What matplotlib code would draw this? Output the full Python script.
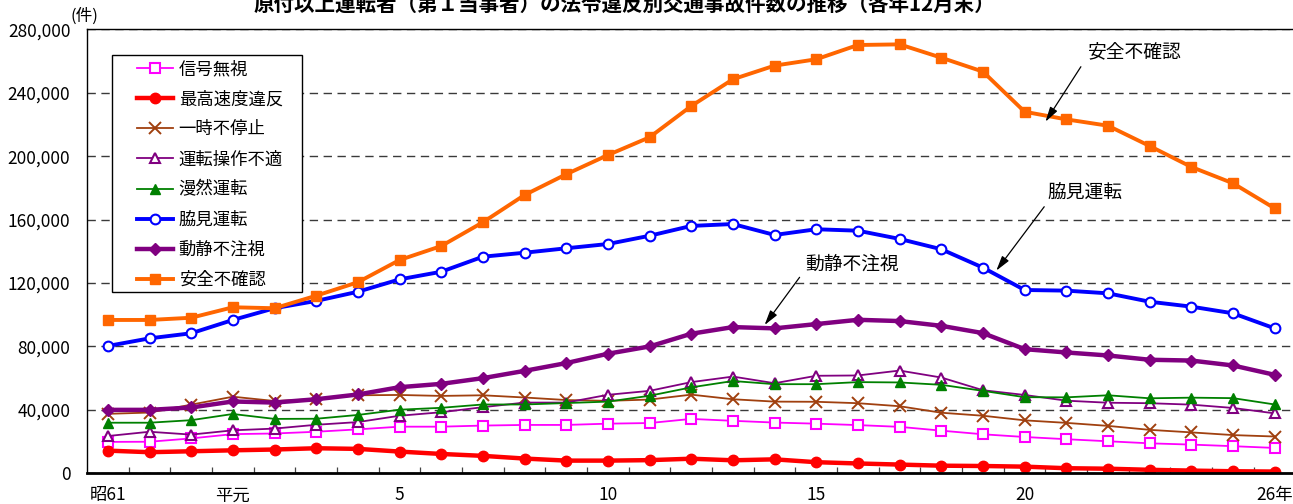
import matplotlib
matplotlib.use("Agg")
import matplotlib.pyplot as plt
from matplotlib.patches import Rectangle
from matplotlib.ticker import FixedLocator, FuncFormatter

plt.rcParams['font.family'] = ['Noto Sans CJK JP', 'DejaVu Sans']

# 昭和61年〜平成26年 (各年12月末)
years = ['昭61', '62', '63', '平元', '2', '3', '4', '5', '6', '7', '8', '9',
         '10', '11', '12', '13', '14', '15', '16', '17', '18', '19', '20',
         '21', '22', '23', '24', '25', '26年']
shown_labels = {'昭61': '昭61', '平元': '平元', '5': '5', '10': '10',
                '15': '15', '20': '20', '26年': '26年'}

signal_ignored = [19800, 19900, 22000, 24700, 25100, 26200, 27700, 29400, 29400,
                  30100, 30500, 30500, 31300, 31700, 34300, 33100, 32000, 31300,
                  30400, 29300, 26900, 24600, 22900, 21500, 20200, 18900, 18100,
                  17100, 16000]
speeding = [14300, 13300, 13900, 14500, 15000, 15800, 15400, 13700, 12200,
            11000, 9300, 8000, 8000, 8300, 9200, 8200, 8800, 7000, 6200, 5500,
            4800, 4600, 4200, 3200, 2900, 2200, 1700, 1300, 1100]
no_stop = [37500, 38300, 43300, 48300, 45600, 46800, 49200, 49400, 48800,
           49200, 47800, 46200, 45700, 46500, 49600, 46700, 45200, 45100,
           44200, 42300, 38200, 36300, 33400, 31800, 29900, 27400, 25800,
           24100, 23200]
improper_operation = [23500, 26200, 24400, 27100, 28200, 30600, 32300, 36300,
                      38500, 41700, 44600, 44600, 49500, 52000, 57500, 61000,
                      56800, 61500, 61700, 64800, 60400, 52400, 49400, 45800,
                      44500, 44200, 43300, 41200, 37800]
absent_minded = [31900, 31900, 33500, 37400, 34300, 34400, 36800, 40100, 41300,
                 43400, 43400, 44300, 45200, 48900, 54200, 58200, 56200, 56200,
                 57500, 57300, 55800, 52000, 48000, 47900, 49200, 47300, 47700,
                 47400, 43400]
looking_aside = [80300, 85100, 88300, 96700, 104100, 108700, 114500, 122300,
                 127100, 136600, 139100, 141900, 144600, 149800, 156000, 157200,
                 150300, 153900, 153000, 147800, 141300, 129700, 115600, 115200,
                 113500, 108200, 105100, 100900, 91400]
careless_of_others = [40000, 40000, 41500, 45300, 44600, 46700, 49700, 54300,
                      56400, 60000, 64600, 69500, 75400, 80000, 88000, 92200,
                      91400, 94100, 96800, 96000, 93000, 88400, 78300, 76200,
                      74300, 71600, 71100, 68000, 62100]
safety_unconfirmed = [96700, 96700, 98100, 104700, 104100, 112000, 120500,
                      134500, 143300, 158300, 175500, 188600, 200700, 211900,
                      231600, 248500, 257100, 261100, 270100, 270500, 262100,
                      253300, 228000, 223200, 219200, 206400, 193200, 182900,
                      167100]

series = [
    ('信号無視', signal_ignored, dict(color='#FF00FF', lw=1.3, marker='s', ms=6.5,
                                  mfc='white', mec='#FF00FF', mew=1.5)),
    ('最高速度違反', speeding, dict(color='#FF0000', lw=3.2, marker='o', ms=7.5,
                                 mfc='#FF0000', mec='#FF0000')),
    ('一時不停止', no_stop, dict(color='#A0400F', lw=1.3, marker='x', ms=8.5,
                             mew=1.4)),
    ('運転操作不適', improper_operation, dict(color='#800080', lw=1.3, marker='^',
                                       ms=7, mfc='white', mec='#800080', mew=1.5)),
    ('漫然運転', absent_minded, dict(color='#008000', lw=1.3, marker='^', ms=7.5,
                                 mfc='#008000', mec='#008000')),
    ('脇見運転', looking_aside, dict(color='#0000FF', lw=2.8, marker='o', ms=7,
                                 mfc='white', mec='#0000FF', mew=1.5)),
    ('動静不注視', careless_of_others, dict(color='#800080', lw=3.2, marker='D',
                                      ms=6.5, mfc='#800080', mec='#800080')),
    ('安全不確認', safety_unconfirmed, dict(color='#FF6600', lw=2.8, marker='s',
                                     ms=7.5, mfc='#FF6600', mec='#FF6600')),
]

W, H = 1293, 504
fig = plt.figure(figsize=(W / 100, H / 100), dpi=100)
left_px, right_px, top_px, bottom_px = 87, 1295.5, 29.3, 473.3
ax = fig.add_axes([left_px / W, 1 - bottom_px / H,
                   (right_px - left_px) / W, (bottom_px - top_px) / H])


def ax_frac(px, py):
    """Pixel position (from the top-left of the figure) in axes fraction."""
    return ((px - left_px) / (right_px - left_px),
            (bottom_px - py) / (bottom_px - top_px))


x = list(range(len(years)))
for name, values, style in series:
    ax.plot(x, values, label=name, **style)

ax.set_xlim(-0.5, len(years) - 0.5)
ax.set_ylim(0, 280000)

# y axis
ax.set_yticks(range(0, 280001, 40000))
ax.yaxis.set_major_formatter(FuncFormatter(lambda v, p: f'{int(v):,}'))
ax.tick_params(axis='y', length=0, pad=12, labelsize=12.5)
ax.yaxis.grid(True, linestyle=(0, (6, 4)), color='#3a3a3a', linewidth=1.0)
ax.set_axisbelow(True)

# x axis: labels on selected years, small inward ticks between years
label_pos = [i for i, y in enumerate(years) if y in shown_labels]
ax.xaxis.set_major_locator(FixedLocator(label_pos))
ax.set_xticklabels([shown_labels[years[i]] for i in label_pos])
ax.xaxis.set_minor_locator(FixedLocator([i + 0.5 for i in range(len(years) - 1)]))
ax.tick_params(axis='x', which='major', length=0, pad=9.5, labelsize=12.5)
ax.tick_params(axis='x', which='minor', direction='in', length=4, width=0.9,
               color='#444444')

for side in ('left', 'top'):
    ax.spines[side].set_linewidth(1.0)
ax.spines['bottom'].set_linewidth(2.0)
ax.spines['right'].set_visible(False)

# legend box drawn as its own frame, entries placed inside it
bx0, by0 = ax_frac(112, 292)
bx1, by1 = ax_frac(302, 55)
ax.add_patch(Rectangle((bx0, by0), bx1 - bx0, by1 - by0, transform=ax.transAxes,
                       facecolor='white', edgecolor='black', lw=1.0, zorder=5))
leg = ax.legend(loc='upper left', bbox_to_anchor=ax_frac(137, 60),
                borderaxespad=0, fontsize=12.5, frameon=False,
                handlelength=2.1, handletextpad=0.3,
                labelspacing=0.7, borderpad=0, numpoints=1)
leg.set_zorder(6)

arrow = dict(arrowstyle='-|>,head_length=0.9,head_width=0.25', color='black',
             lw=0.9, shrinkA=0, shrinkB=0)
ax.annotate('', xy=(22.5, 221700), xytext=(23.35, 256400), arrowprops=arrow)
ax.text(24.65, 265700, '安全不確認', fontsize=13.5, ha='center', va='center')
ax.annotate('', xy=(21.32, 127800), xytext=(22.47, 168100), arrowprops=arrow)
ax.text(23.44, 176600, '脇見運転', fontsize=13.5, ha='center', va='center')
ax.annotate('', xy=(15.76, 93500), xytext=(16.6, 123600), arrowprops=arrow)
ax.text(17.85, 131800, '動静不注視', fontsize=13.5, ha='center', va='center')

fig.text(84 / W, 1 - 16 / H, '(件)', fontsize=12, ha='center', va='center')
fig.text(624 / W, 1 - 4 / H,
         '原付以上運転者（第１当事者）の法令違反別交通事故件数の推移（各年12月末）',
         fontsize=14.8, fontweight='bold', ha='center', va='center')

fig.savefig('out.png', dpi=100)
